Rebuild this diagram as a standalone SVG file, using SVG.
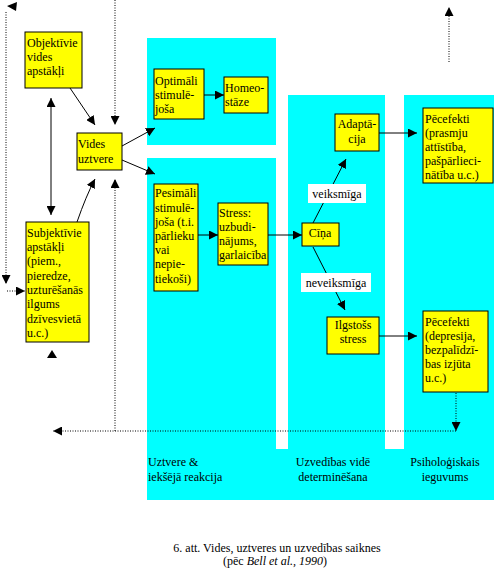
<svg xmlns="http://www.w3.org/2000/svg" width="494" height="571" viewBox="0 0 494 571" font-family="'Liberation Serif', 'Times New Roman', 'DejaVu Serif', serif">
<style>
text{font-family:'Liberation Serif','Times New Roman','DejaVu Serif',serif;font-size:12px;fill:#000}
.box{fill:#ffff00;stroke:#000;stroke-width:1}
.bg{fill:#00ffff}
.ln{stroke:#000;stroke-width:1;fill:none}
.dt{stroke:#000;stroke-width:1;fill:none;stroke-dasharray:1,1.5}
.c{text-anchor:middle}
.lbl{fill:#fff}
.ah{fill:#000}
</style>
<defs>
<marker id="a" viewBox="0 0 10 10" refX="10" refY="5" markerWidth="9" markerHeight="9" markerUnits="userSpaceOnUse" orient="auto">
<path d="M0,0 L10,5 L0,10 z" fill="#000"/>
</marker>
<marker id="s" viewBox="0 0 10 10" refX="10" refY="5" markerWidth="9" markerHeight="9" markerUnits="userSpaceOnUse" orient="auto-start-reverse">
<path d="M0,0 L10,5 L0,10 z" fill="#000"/>
</marker>
</defs>
<rect width="494" height="571" fill="#fff"/>
<g id="background">
<rect class="bg" x="147" y="38" width="129" height="107"/>
<rect class="bg" x="147" y="158" width="129" height="342"/>
<rect class="bg" x="288" y="95" width="97" height="405"/>
<rect class="bg" x="404" y="95" width="90" height="405"/>
<rect class="bg" x="147" y="449" width="347" height="51"/>
</g>
<g id="connectors">
<line class="ln" x1="70" y1="88" x2="95" y2="125" marker-end="url(#a)"/>
<line class="dt" x1="115" y1="0" x2="115" y2="125" marker-end="url(#a)"/>
<line class="dt" x1="115" y1="431" x2="115" y2="179" marker-end="url(#a)"/>
<line class="ln" x1="51" y1="98" x2="51" y2="215" marker-start="url(#s)" marker-end="url(#a)"/>
<path class="ln" d="M77,222 Q86,196 95,179" marker-end="url(#a)"/>
<line class="ln" x1="122" y1="146" x2="155" y2="128" marker-end="url(#a)"/>
<line class="ln" x1="122" y1="160" x2="155" y2="174" marker-end="url(#a)"/>
<line class="ln" x1="204" y1="95" x2="224" y2="95" marker-end="url(#a)"/>
<line class="ln" x1="198" y1="235" x2="218" y2="235" marker-end="url(#a)"/>
<line class="ln" x1="268" y1="235" x2="302" y2="235" marker-end="url(#a)"/>
<line class="ln" x1="313" y1="223" x2="346" y2="159" marker-end="url(#a)"/>
<line class="ln" x1="313" y1="247" x2="345" y2="310" marker-end="url(#a)"/>
<line class="ln" x1="379" y1="133" x2="417" y2="133" marker-end="url(#a)"/>
<line class="ln" x1="379" y1="336" x2="417" y2="336" marker-end="url(#a)"/>
<line class="dt" x1="456" y1="393" x2="456" y2="431" marker-end="url(#a)"/>
<line class="dt" x1="456" y1="431" x2="53" y2="431" marker-end="url(#a)"/>
<line class="dt" x1="449" y1="62" x2="449" y2="7" marker-end="url(#a)"/>
<line class="dt" x1="6" y1="12" x2="6" y2="284" marker-end="url(#a)"/>
<line class="dt" x1="7" y1="291" x2="25" y2="291" marker-end="url(#a)"/>
<polygon class="ah" points="7,6 17,2 16,11"/>
<polygon class="ah" points="52,350 47,358 57,358"/>
<rect class="lbl" x="308" y="184" width="58" height="19"/>
<text class="c" x="337" y="198">veiksmīga</text>
<rect class="lbl" x="301" y="273" width="70" height="19"/>
<text class="c" x="336" y="287">neveiksmīga</text>
</g>
<g id="objektivie">
<rect class="box" x="25" y="32" width="57" height="56"/>
<text x="27" y="47">Objektīvie</text>
<text x="27" y="61">vides</text>
<text x="27" y="75">apstākļi</text>
</g>
<g id="subjektivie">
<rect class="box" x="26" y="222" width="63" height="120"/>
<text x="27" y="237">Subjektīvie</text>
<text x="27" y="251">apstākļi</text>
<text x="27" y="265">(piem.,</text>
<text x="27" y="280">pieredze,</text>
<text x="27" y="294">uzturēšanās</text>
<text x="27" y="308">ilgums</text>
<text x="27" y="323">dzīvesvietā</text>
<text x="27" y="337">u.c.)</text>
</g>
<g id="vides-uztvere">
<rect class="box" x="77" y="133" width="45" height="37"/>
<text x="78" y="148">Vides</text>
<text x="78" y="163">uztvere</text>
</g>
<g id="optimali">
<rect class="box" x="154" y="69" width="50" height="50"/>
<text x="155" y="85">Optimāli</text>
<text x="155" y="99">stimulē-</text>
<text x="155" y="113">joša</text>
</g>
<g id="homeostaze">
<rect class="box" x="224" y="77" width="44" height="36"/>
<text x="225" y="92">Homeo-</text>
<text x="225" y="106">stāze</text>
</g>
<g id="pesimali">
<rect class="box" x="154" y="184" width="44" height="107"/>
<text x="155" y="197">Pesimāli</text>
<text x="155" y="212">stimulē-</text>
<text x="155" y="226">joša (t.i.</text>
<text x="155" y="240">pārlieku</text>
<text x="155" y="254">vai</text>
<text x="155" y="268">nepie-</text>
<text x="155" y="283">tiekoši)</text>
</g>
<g id="stress">
<rect class="box" x="218" y="203" width="50" height="62"/>
<text x="219" y="217">Stress:</text>
<text x="219" y="231">uzbudi-</text>
<text x="219" y="245">nājums,</text>
<text x="219" y="259">garlaicība</text>
</g>
<g id="cina">
<rect class="box" x="302" y="223" width="37" height="23"/>
<text class="c" x="320" y="237">Cīņa</text>
</g>
<g id="adaptacija">
<rect class="box" x="335" y="114" width="44" height="37"/>
<text class="c" x="357" y="128">Adaptā-</text>
<text class="c" x="357" y="143">cija</text>
</g>
<g id="ilgstoss">
<rect class="box" x="327" y="317" width="52" height="37"/>
<text class="c" x="353" y="329">Ilgstošs</text>
<text class="c" x="353" y="343">stress</text>
</g>
<g id="pecefekti1">
<rect class="box" x="423" y="108" width="70" height="75"/>
<text x="425" y="123">Pēcefekti</text>
<text x="425" y="137">(prasmju</text>
<text x="425" y="151">attīstība,</text>
<text x="425" y="165">pašpārlieci-</text>
<text x="425" y="179">nātība u.c.)</text>
</g>
<g id="pecefekti2">
<rect class="box" x="423" y="311" width="65" height="81"/>
<text x="425" y="326">Pēcefekti</text>
<text x="425" y="340">(depresija,</text>
<text x="425" y="354">bezpalīdzī-</text>
<text x="425" y="368">bas izjūta</text>
<text x="425" y="382">u.c.)</text>
</g>
<g id="column-labels">
<text x="148" y="466">Uztvere &amp;</text>
<text x="148" y="481">iekšējā reakcija</text>
<text class="c" x="333" y="466">Uzvedības vidē</text>
<text class="c" x="333" y="481">determinēšana</text>
<text class="c" x="445" y="466">Psiholoģiskais</text>
<text class="c" x="445" y="481">ieguvums</text>
</g>
<g id="caption">
<text class="c" x="277" y="552">6. att. Vides, uztveres un uzvedības saiknes</text>
<text class="c" x="275" y="565">(pēc <tspan font-style="italic">Bell et al., 1990</tspan>)</text>
</g>
</svg>
